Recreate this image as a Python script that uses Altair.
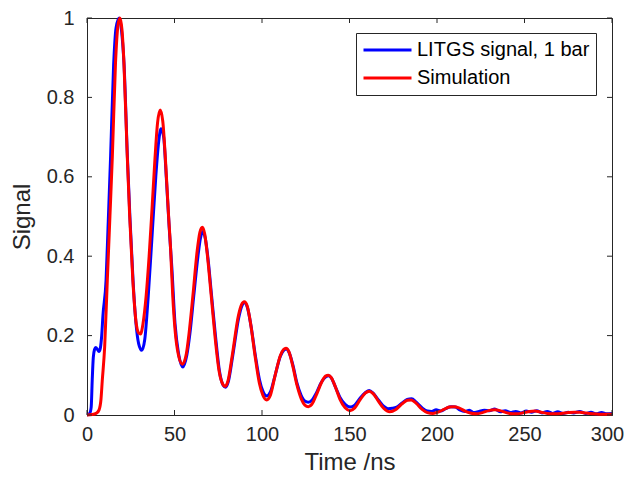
import altair as alt
import pandas as pd

# LITGS measured signal (blue)
blue_t = [0, 1.5, 2.4, 3, 3.6, 4.3, 5, 6, 6.8, 7.6, 8.4, 9.1, 10.9, 12, 13.5, 15.2, 16.6, 18.4, 19.8, 21.2,
          23, 24.5, 26.3, 28, 29.5, 31.3, 33, 35, 37.3, 39.3, 41, 42.3, 43.8, 45.3, 47, 48.5, 50.3, 52.3, 54.8, 57,
          58.8, 61, 63.4, 64.8, 66.2, 67.6, 69, 71.2, 73.4, 75.7, 77.8, 79.2, 80.8, 83.3, 86.7, 88.5, 90, 91.7, 93.7, 96.2,
          98.5, 100.5, 102.7, 104.8, 107.5, 110.5, 112.5, 113.9, 115.5, 117.7, 120, 122.3, 124.5, 126.5, 128.5, 131, 134, 136.5, 138, 139.7,
          142, 144.5, 147.5, 150.3, 153, 156, 159, 161.3, 163.5, 166.5, 169.5, 172, 174.5, 177, 180, 183, 185.5, 188, 191.5, 194.5,
          197, 199.5, 202, 205, 208, 210.5, 213, 216, 218.5, 221, 224, 227, 230, 233, 236, 239, 242, 245, 248, 251,
          254, 257, 260, 263, 266, 269, 272, 275, 278, 281.5, 285, 288, 291, 294, 297, 300]
blue_v = [0, 0.004, 0.02, 0.09, 0.145, 0.165, 0.17, 0.165, 0.16, 0.168, 0.2, 0.25, 0.34, 0.47, 0.653, 0.88, 0.975, 1.0, 0.965, 0.88,
          0.66, 0.5, 0.34, 0.23, 0.18, 0.163, 0.19, 0.3, 0.46, 0.6, 0.69, 0.721, 0.7, 0.6, 0.47, 0.37, 0.23, 0.155, 0.121, 0.15,
          0.205, 0.3, 0.4, 0.445, 0.462, 0.445, 0.4, 0.3, 0.2, 0.11, 0.075, 0.07, 0.085, 0.15, 0.245, 0.275, 0.283, 0.27, 0.225, 0.15,
          0.09, 0.06, 0.048, 0.058, 0.1, 0.148, 0.163, 0.166, 0.157, 0.125, 0.08, 0.05, 0.035, 0.032, 0.037, 0.055, 0.083, 0.096, 0.099, 0.093,
          0.07, 0.045, 0.027, 0.02, 0.025, 0.042, 0.056, 0.062, 0.055, 0.038, 0.022, 0.016, 0.017, 0.02, 0.03, 0.039, 0.041, 0.033, 0.018, 0.01,
          0.009, 0.013, 0.01, 0.016, 0.021, 0.02, 0.013, 0.009, 0.012, 0.006, 0.009, 0.012, 0.011, 0.015, 0.008, 0.011, 0.006, 0.009, 0.005, 0.01,
          0.007, 0.011, 0.005, 0.009, 0.004, 0.008, 0.004, 0.007, 0.005, 0.009, 0.004, 0.007, 0.003, 0.006, 0.003, 0.004]

# Simulation (red)
red_t = [0, 3, 5.5, 6.9, 8, 8.7, 10.1, 11.6, 13.1, 14.5, 16.3, 17.6, 18.8, 20, 21.1, 23, 24.4, 26.2, 28, 29.5,
         30.6, 32, 33.8, 35.5, 37.3, 38.9, 40.3, 41.8, 43.3, 45, 46.5, 47.8, 49, 50.3, 52.3, 54.5, 56.8, 58.3, 60.5, 63,
         64.5, 65.9, 67.3, 68.6, 71, 73.1, 75.5, 77.5, 78.9, 80.5, 83, 86.5, 88.3, 89.9, 91.5, 93.5, 96, 98.5, 100.5, 102.7,
         104.8, 107.5, 110.5, 112.3, 113.7, 115.3, 117.5, 120, 122.5, 124.5, 126.5, 128.5, 131, 134, 136.3, 137.9, 139.5, 142, 144.5, 147.5,
         150.3, 153, 156, 159, 161.3, 163.5, 166.5, 169.5, 173, 176.5, 180, 183, 185.3, 188, 191.5, 194.5, 197.7, 201, 204, 207,
         209.7, 212.5, 216, 219, 222.5, 226, 229.5, 233, 236, 239.5, 243, 246, 249.5, 253, 256, 259.5, 263, 267, 271, 275,
         278.5, 281.7, 285, 289, 293, 297, 300]
red_v = [0, 0.001, 0.005, 0.013, 0.04, 0.085, 0.172, 0.339, 0.5, 0.653, 0.888, 0.978, 1.0, 0.97, 0.888, 0.653, 0.5, 0.339, 0.235, 0.207,
         0.204, 0.23, 0.3, 0.4, 0.53, 0.65, 0.735, 0.768, 0.74, 0.63, 0.51, 0.415, 0.3, 0.215, 0.15, 0.128, 0.155, 0.205, 0.3, 0.415,
         0.46, 0.473, 0.455, 0.41, 0.3, 0.2, 0.11, 0.078, 0.072, 0.085, 0.15, 0.25, 0.278, 0.285, 0.275, 0.23, 0.15, 0.08, 0.05, 0.038,
         0.05, 0.1, 0.15, 0.165, 0.168, 0.16, 0.125, 0.075, 0.04, 0.025, 0.021, 0.027, 0.05, 0.082, 0.098, 0.1, 0.095, 0.07, 0.04, 0.018,
         0.011, 0.018, 0.038, 0.055, 0.06, 0.054, 0.035, 0.017, 0.008, 0.014, 0.028, 0.037, 0.038, 0.03, 0.014, 0.006, 0.004, 0.008, 0.014, 0.02,
         0.021, 0.018, 0.01, 0.005, 0.003, 0.006, 0.011, 0.013, 0.011, 0.006, 0.003, 0.003, 0.006, 0.009, 0.01, 0.007, 0.004, 0.003, 0.004, 0.006,
         0.007, 0.007, 0.005, 0.003, 0.002, 0.002, 0.002]

series_names = ["LITGS signal, 1 bar", "Simulation"]
series_colors = ["#0000FF", "#FF0000"]

x_ticks = [0, 50, 100, 150, 200, 250, 300]
y_ticks = [0, 0.2, 0.4, 0.6, 0.8, 1.0]

FONT = "Liberation Sans"
INK = "#262626"
W, H = 525, 397
TICK = 5

df = pd.concat([
    pd.DataFrame({"t": blue_t, "v": blue_v, "series": series_names[0]}),
    pd.DataFrame({"t": red_t, "v": red_v, "series": series_names[1]}),
])

xscale = alt.Scale(domain=[0, 300], nice=False, zero=False, padding=0)
yscale = alt.Scale(domain=[0, 1], nice=False, padding=0)
cscale = alt.Scale(domain=series_names, range=series_colors)

axis_style = dict(ticks=False, grid=False, domainColor=INK, domainWidth=1, labelFlush=False,
                  labelColor=INK, titleColor=INK, labelFont=FONT, titleFont=FONT,
                  labelFontSize=20, titleFontSize=24, titleFontWeight="normal")
xaxis = alt.Axis(values=x_ticks, title="Time /ns", labelPadding=9, titlePadding=6,
                 format="d",
                 labelOffset={"condition": {"test": "datum.value === 300", "value": -5}, "value": 0},
                 **axis_style)
yaxis = alt.Axis(values=y_ticks, title="Signal", labelPadding=13, titlePadding=12,
                 format="~g", **axis_style)

legend = alt.Legend(title=None, orient="none", legendX=269, legendY=15, symbolType="stroke",
                    symbolSize=2304, symbolStrokeWidth=3, labelFontSize=20, labelFont=FONT,
                    labelColor="black", strokeColor=INK, fillColor="white", padding=6,
                    rowPadding=6, labelOffset=4, clipHeight=22, labelLimit=400)

base = alt.Chart(df)

def line_for(name):
    return base.transform_filter(alt.datum.series == name).mark_line(
        strokeWidth=3, interpolate="monotone").encode(
        x=alt.X("t:Q", scale=xscale, axis=xaxis),
        y=alt.Y("v:Q", scale=yscale, axis=yaxis),
        color=alt.Color("series:N", scale=cscale, legend=legend),
    )

blue_line = line_for(series_names[0])
red_line = line_for(series_names[1])

xt = alt.Chart(pd.DataFrame({"t": x_ticks}))
yt = alt.Chart(pd.DataFrame({"v": y_ticks}))
tick_style = dict(color=INK, strokeWidth=1)

xb = xt.mark_rule(**tick_style).encode(x=alt.X("t:Q", scale=xscale, axis=xaxis), y=alt.value(H), y2=alt.value(H - TICK))
xtop = xt.mark_rule(**tick_style).encode(x=alt.X("t:Q", scale=xscale, axis=xaxis), y=alt.value(0), y2=alt.value(TICK))
yl = yt.mark_rule(**tick_style).encode(y=alt.Y("v:Q", scale=yscale, axis=yaxis), x=alt.value(0), x2=alt.value(TICK))
yr = yt.mark_rule(**tick_style).encode(y=alt.Y("v:Q", scale=yscale, axis=yaxis), x=alt.value(W), x2=alt.value(W - TICK))

chart = alt.layer(blue_line, red_line, xb, xtop, yl, yr).properties(
    width=W, height=H,
    background="white",
    autosize=alt.AutoSizeParams(type="none"),
    padding={"left": 79, "top": 10, "right": 13, "bottom": 61},
).configure_view(stroke=INK, strokeWidth=1)

chart.save("out.html", embed_options={"renderer": "svg", "actions": False})
